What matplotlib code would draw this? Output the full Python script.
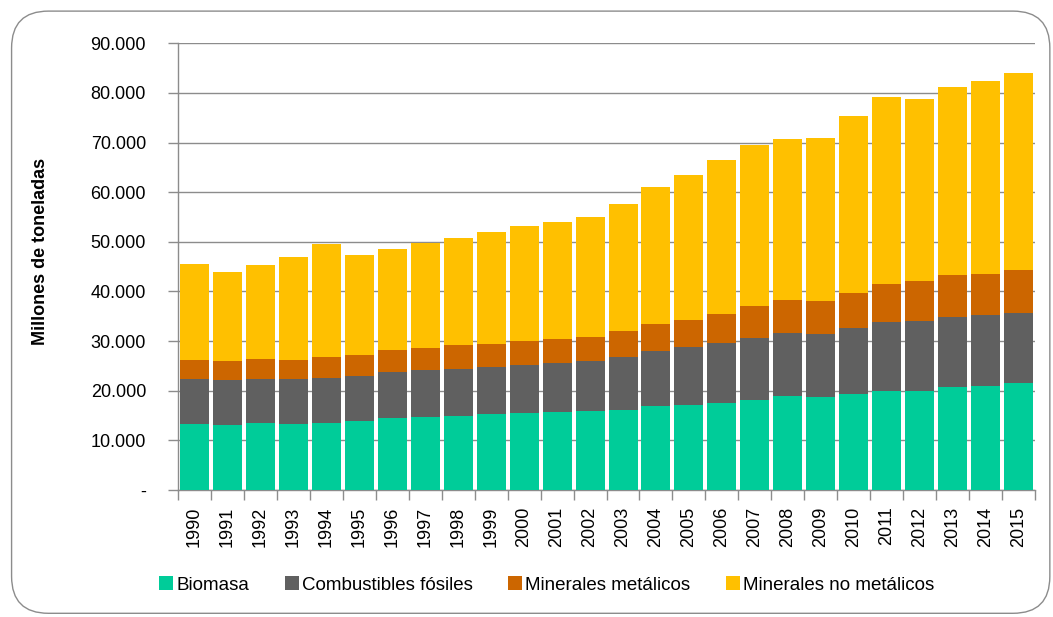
import matplotlib.pyplot as plt
import numpy as np
from matplotlib.patches import FancyBboxPatch
from matplotlib.ticker import FuncFormatter, FixedLocator

years = [str(y) for y in range(1990, 2016)]

# cumulative tops (millones de toneladas)
biomasa = [13230, 13100, 13430, 13365, 13500, 13835, 14440, 14640, 14910, 15310,
           15450, 15650, 15850, 16190, 16920, 17130, 17530, 18200, 18870, 18740,
           19270, 19950, 19950, 20690, 21020, 21490]
fosiles_top = [22300, 22160, 22360, 22300, 22630, 22970, 23840, 24110, 24450, 24780,
               25250, 25660, 25990, 26860, 28070, 28810, 29620, 30690, 31630, 31500,
               32710, 33920, 34120, 34920, 35330, 35660]
metalicos_top = [26190, 25990, 26330, 26260, 26730, 27270, 28210, 28680, 29150, 29480,
                 30020, 30420, 30890, 31970, 33450, 34250, 35530, 37070, 38210, 38080,
                 39690, 41500, 42110, 43250, 43520, 44260]
total = [45470, 43930, 45270, 46880, 49560, 47280, 48490, 49770, 50840, 51980,
         53190, 54000, 55000, 57620, 60980, 63470, 66490, 69580, 70720, 70920,
         75350, 79110, 78850, 81200, 82400, 84080]

labels = ["Biomasa", "Combustibles fósiles", "Minerales metálicos", "Minerales no metálicos"]
colors = ["#00CC99", "#606060", "#CC6600", "#FFC000"]

plt.rcParams["font.family"] = ["Liberation Sans", "DejaVu Sans"]

fig = plt.figure(figsize=(10.53, 6.17), dpi=100)
fig.patches.append(FancyBboxPatch((0.011, 0.006), 0.986, 0.976,
                                  boxstyle="round,pad=0,rounding_size=0.035",
                                  transform=fig.transFigure, facecolor="white",
                                  edgecolor="#8c8c8c", linewidth=1.0,
                                  mutation_aspect=1053 / 617, zorder=-10))

ax = fig.add_axes([0.169, 0.2058, 0.814, 0.724])
ax.set_facecolor("none")

x = np.arange(len(years))
b = np.array(biomasa)
f = np.array(fosiles_top) - b
m = np.array(metalicos_top) - np.array(fosiles_top)
n = np.array(total) - np.array(metalicos_top)

bottom = np.zeros(len(years))
for vals, col, lab in zip([b, f, m, n], colors, labels):
    ax.bar(x, vals, bottom=bottom, width=0.88, color=col, label=lab, zorder=3)
    bottom += vals

ax.set_xlim(-0.5, len(years) - 0.5)
ax.set_ylim(0, 90000)
ax.set_yticks(np.arange(0, 90001, 10000))
ax.yaxis.set_major_formatter(FuncFormatter(
    lambda v, p: "-" if v == 0 else f"{int(v):,}".replace(",", ".")))
ax.grid(axis="y", color="#8c8c8c", linewidth=1.0, zorder=0)

ax.set_xticks(x, years, rotation=90)
ax.xaxis.set_minor_locator(FixedLocator(np.arange(-0.5, len(years), 1)))
ax.tick_params(axis="x", which="major", length=0, pad=12, labelsize=13)
ax.tick_params(axis="x", which="minor", length=7, color="#8c8c8c", width=1.0)
ax.tick_params(axis="y", length=7, color="#8c8c8c", width=1.0, pad=16, labelsize=13)

for side in ["top", "right"]:
    ax.spines[side].set_visible(False)
for side in ["left", "bottom"]:
    ax.spines[side].set_color("#8c8c8c")
    ax.spines[side].set_linewidth(1.0)

ax.set_ylabel("Millones de toneladas", fontsize=13, fontweight="bold")
ax.yaxis.set_label_coords(-0.151, 0.535)

fig.legend(loc="center", bbox_to_anchor=(0.519, 0.052), ncol=4, frameon=False,
           fontsize=13.5, handlelength=0.75, handleheight=0.75, handletextpad=0.15,
           columnspacing=1.9)

fig.savefig("out.png", dpi=100, facecolor="white")
